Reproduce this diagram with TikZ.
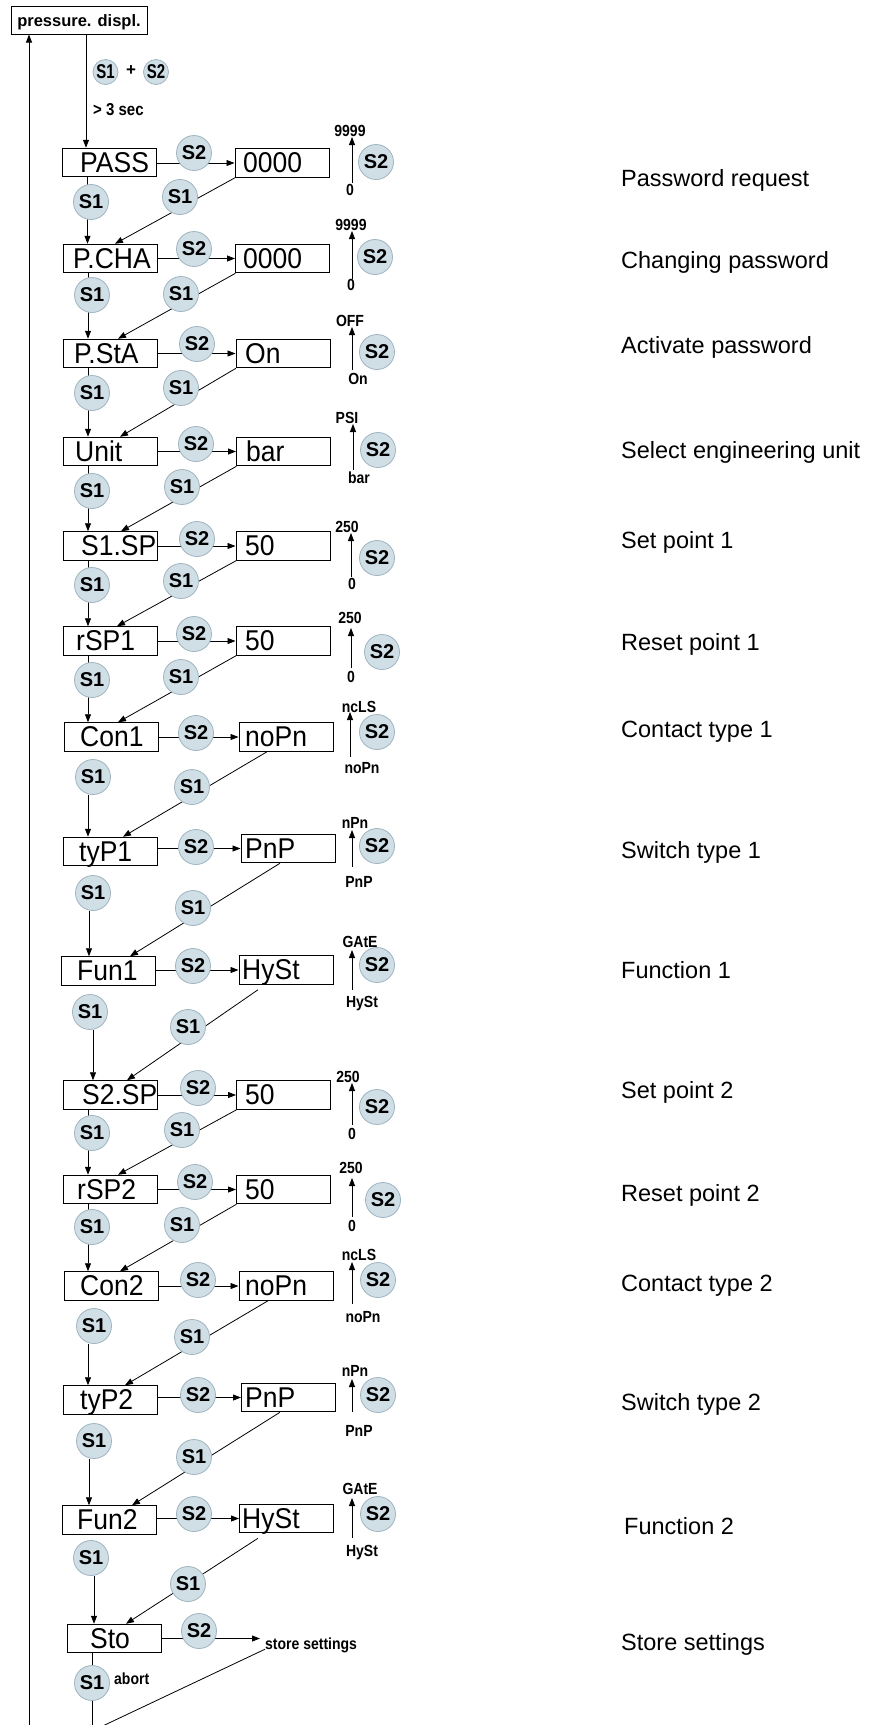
\documentclass[tikz,border=0pt]{standalone}
\usepackage{fontspec}
\usepackage{graphicx}
\setmainfont{Liberation Sans}
\usetikzlibrary{arrows.meta,calc}
\pgfdeclarelayer{bg}
\pgfsetlayers{bg,main}
\definecolor{btnfill}{RGB}{208,222,230}
\definecolor{btnedge}{RGB}{160,180,192}
\newcommand{\vst}[1]{\scalebox{1}[1.08]{#1}}
\newcommand{\vsl}[1]{\scalebox{1}[1.15]{#1}}
\begin{document}
\begin{tikzpicture}[x=1pt,y=-1pt,
  ln/.style={line width=0.8pt},
  arr/.style={ln,-{Triangle[length=8pt,width=6pt]}},
  lbox/.style={draw,line width=1pt,minimum width=94pt,minimum height=28.5pt,inner sep=0pt},
  btxt/.style={anchor=base west,inner sep=0pt,font=\fontsize{26.5}{26}\selectfont},
  btn/.style={circle,draw=btnedge,fill=btnfill,line width=0.8pt,minimum size=35pt,inner sep=0pt,font=\bfseries\fontsize{20}{20}\selectfont},
  sbtn/.style={btn,minimum size=25pt,font=\bfseries\fontsize{20}{20}\selectfont},
  sl/.style={inner sep=0pt,text height=10pt,text depth=0pt,font=\bfseries\fontsize{14}{14}\selectfont},
  desc/.style={anchor=base west,inner sep=0pt,font=\fontsize{23.5}{24}\selectfont}]
\useasboundingbox (0,0) rectangle (869,1725);
\clip (0,0) rectangle (869,1725);

% top
\node[lbox,minimum width=136pt,minimum height=28pt,text height=12pt,text depth=0pt,font=\bfseries\fontsize{16.5}{17}\selectfont] (pd) at (79,20) {pressure. displ.};
\node[sbtn] (k1) at (105.5,72) {\scalebox{0.75}[1]{S1}};
\node[sbtn] (k2) at (156,72) {\scalebox{0.75}[1]{S2}};
\node[inner sep=0pt,font=\bfseries\fontsize{17}{17}\selectfont] (plus) at (131,71) {+};
\node[anchor=base west,inner sep=0pt,font=\bfseries\fontsize{15}{15}\selectfont] (sec) at (93,115) {\vsl{> 3 sec}};

% boxes
\foreach \i/\lx/\ly/\lt/\ltx/\rx/\ry/\rt/\rtx in {
 1/109.5/162.5/PASS/80/282/163/0000/243,
 2/110/258.5/P.CHA/73/282.5/258.5/0000/243,
 3/110/353.5/P.StA/74/283/353.5/On/245,
 4/110.5/451.5/Unit/75/283.5/451.5/bar/246,
 5/110/546/S1.SP/81/283/546/50/245,
 6/110/641/rSP1/76/283/641/50/245,
 7/111/737/Con1/80/286/737/noPn/245,
 8/110/851.5/tyP1/79/288/848.5/PnP/245,
 9/108/971/Fun1/77/286/970/HySt/242,
 10/110.5/1095/S2.SP/82/283.5/1095/50/245,
 11/110.5/1189.5/rSP2/77/283.5/1189.5/50/245,
 12/111.5/1286/Con2/80/286/1286/noPn/245,
 13/110.5/1400/tyP2/80/288.5/1397.5/PnP/245,
 14/109/1520/Fun2/77/286.5/1518.5/HySt/242}{
  \node[lbox] (L\i) at (\lx,\ly) {};
  \node[btxt] (LT\i) at (\ltx,{\ly+9.8}) {\vst{\lt}};
  \node[lbox] (R\i) at (\rx,\ry) {};
  \node[btxt] (RT\i) at (\rtx,{\ry+9.8}) {\vst{\rt}};
}
\node[lbox] (L15) at (114,1638.5) {};
\node[btxt] (LT15) at (90,1648.3) {\vst{Sto}};

% buttons
\foreach \i/\sx/\sy/\vx/\vy/\dx/\dy in {
 1/194/153/91/202/180/197,
 2/194/249/92/295/181/294,
 3/197/344/92/393/181/388,
 4/196/444/92/491/182/487,
 5/197/539/92/585/181/581,
 6/194/634/92/680/181/677,
 7/196/733/93/777/192/787,
 8/196/847/93/893/193/908,
 9/193/966/90/1012/188/1027,
 10/198/1088/92/1133/182/1130,
 11/195/1182/92/1227/182/1225,
 12/198/1280/94/1326/192/1337,
 13/198/1395/94/1441/194/1457,
 14/194/1514/91/1558/188/1584}{
  \node[btn] (H\i) at (\sx,\sy) {S2};
  \node[btn] (V\i) at (\vx,\vy) {S1};
  \node[btn] (D\i) at (\dx,\dy) {S1};
}
\node[btn] (H15) at (199,1631) {S2};
\node[btn] (V15) at (92,1683) {S1};
\node[sl,anchor=west] (abort) at (114,1679) {\vsl{abort}};
\node[sl,anchor=west] (ss) at (265,1644) {\vsl{store settings}};

% right value ranges
\foreach \i/\ta/\tx/\ty/\ba/\bx/\by/\ax/\ab/\at/\sx/\sy in {
 1/9999/350/131/0/350/190/352/183/137/376/162,
 2/9999/351/225/0/351/285/352/279/231/375/257,
 3/OFF/350/321/On/358/379/352/370/327/377/352,
 4/PSI/347/418/bar/359/478/353/470/424/378/450,
 5/250/347/527/0/352/584/351/577/533/377/558,
 6/250/350/618/0/351/677/351/668/628/382/652,
 7/ncLS/359/707/noPn/362/768/350/757/712/377/732,
 8/nPn/355/823/PnP/359/882/352/867/830/377/846,
 9/GAtE/360/942/HySt/362/1002/352/990/950/377/965,
 10/250/348/1077/0/352/1134/352/1125/1083/377/1107,
 11/250/351/1168/0/352/1226/352/1217/1178/383/1200,
 12/ncLS/359/1255/noPn/363/1317/352/1304/1262/378/1280,
 13/nPn/355/1371/PnP/359/1431/352/1412/1379/378/1395,
 14/GAtE/360/1489/HySt/362/1551/352/1538/1498/378/1514}{
  \node[sl] (T\i) at (\tx,\ty) {\vsl{\ta}};
  \node[sl] (B\i) at (\bx,\by) {\vsl{\ba}};
  \coordinate (ua\i) at (\ax,\ab);
  \coordinate (ut\i) at (\ax,\at);
  \draw[arr] (ua\i) -- (ut\i);
  \node[btn] (E\i) at (\sx,\sy) {S2};
}

% descriptions
\foreach \t/\x/\y [count=\n] in {Password request/621/178, Changing password/621/260,
 Activate password/621/345, Select engineering unit/621/450, Set point 1/621/540,
 Reset point 1/621/642, Contact type 1/621/729, Switch type 1/621/850,
 Function 1/621/970, Set point 2/621/1090, Reset point 2/621/1193,
 Contact type 2/621/1283, Switch type 2/621/1402, Function 2/624/1526,
 Store settings/621/1642}{
  \node[desc] (desc\n) at (\x,{\y+8.4}) {\t};
}

% connectors
\begin{pgfonlayer}{bg}
\coordinate (ret) at (29,1740);
\draw[arr] (ret) -- (ret |- pd.south);
\draw[arr] ([xshift=7pt]pd.south) -- ([xshift=7pt]pd.south |- L1.north);
\foreach \i/\sn/\vx/\sdx/\sdy/\tx [evaluate=\i as \j using int(\i+1)] in {
 1/L1/87.5/-47/0/115, 2/L2/88/-47/0/118, 3/L3/88/-47/0/120, 4/L4/88/-47/0/121,
 5/L5/88/-47/0/117, 6/L6/88/-47/0/118, 7/V7/88/-19/0/123, 8/V8/89/-8/0/130,
 9/V9/93/-28/-5/127, 10/L10/88/-47/0/118, 11/L11/88/-47/0/120, 12/V12/88/-18/0/125,
 13/V13/89/-8.5/0/132, 14/V14/94/-28.5/-5/126}{
  \coordinate (vx\i) at (\vx,0);
  \coordinate (dt\i) at (\tx,0);
  \draw[arr] (L\i.east |- R\i.west) -- (R\i.west);
  \draw[arr] (\sn.south -| vx\i) -- (vx\i |- L\j.north);
  \draw[arr] ([xshift=\sdx,yshift=\sdy]R\i.south) -- (dt\i |- L\j.north);
}
\draw[arr,shorten >=5pt] (L15.east) -- (L15.east -| ss.west);
\coordinate (se) at (92,1740);
\draw[ln] (L15.south -| se) -- (se);
\coordinate (de) at (73,1740);
\draw[ln] (ss.south west) -- (de);
\end{pgfonlayer}
\end{tikzpicture}
\end{document}
